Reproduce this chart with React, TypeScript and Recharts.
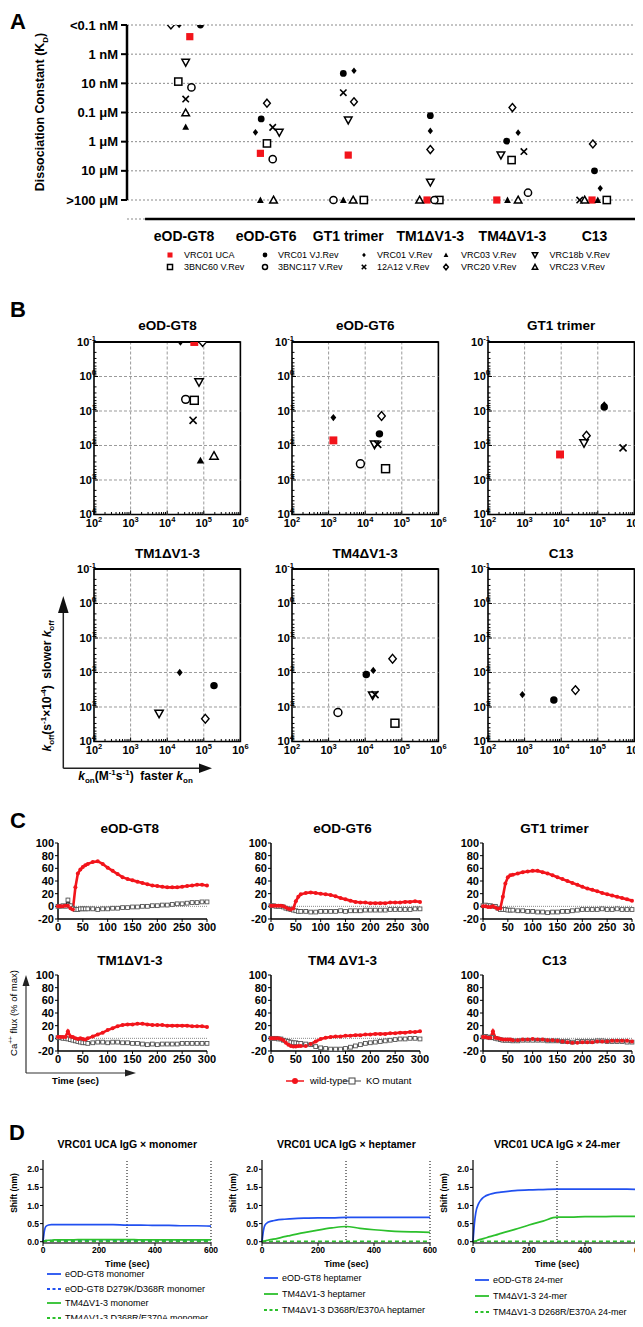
import React from "react";
import {
  ScatterChart, Scatter, LineChart, Line, XAxis, YAxis, CartesianGrid,
  ReferenceLine, ReferenceArea,
} from "recharts";

const SANS = '"Liberation Sans", Arial, Helvetica, sans-serif';
const RED = "#f2141b";
const BLUE = "#2150f0";
const GREEN = "#2cc02c";

// ---------- A: dissociation constants ----------
const kdGroups = ["eOD-GT8", "eOD-GT6", "GT1 trimer", "TM1ΔV1-3", "TM4ΔV1-3", "C13"];
const kdTicks = [10, 9, 8, 7, 6, 5, 4];
const kdTickLabels = ["<0.1 nM", "1 nM", "10 nM", "0.1 μM", "1 μM", "10 μM", ">100 μM"];

// [immunogen index + jitter, -log10 KD]
const kdUCA = [[0.07, 9.6], [0.93, 5.6], [2, 5.54], [2.96, 4], [3.81, 4], [4.97, 4]];
const kdVJRev = [[0.2, 10], [0.94, 6.78], [1.94, 8.34], [3, 6.89], [3.93, 6.02], [5, 5.0]];
const kdVRev = [[-0.06, 10], [0.87, 6.32], [2.07, 8.43], [3, 6.37], [4.07, 6.31], [5.07, 4.4]];
const kdVRC03 = [[0.02, 6.51], [0.93, 4], [1.94, 4], [3.94, 4], [5.04, 4]];
const kdVRC18b = [[0.02, 8.72], [1.16, 6.32], [2, 6.74], [3, 4.61], [3.86, 5.54]];
const kd3BNC60 = [[-0.07, 8.06], [1.01, 5.94], [2.19, 4], [3.11, 4], [3.99, 5.37], [5.15, 4]];
const kd3BNC117 = [[0.09, 7.86], [1.08, 5.4], [1.82, 4], [3.05, 4], [4.19, 4.25]];
const kd12A12 = [[0.02, 7.46], [1.08, 6.49], [1.94, 7.68], [4.14, 5.66], [4.82, 4]];
const kdVRC20 = [[-0.16, 10], [1.01, 7.32], [2.07, 7.37], [3, 5.73], [4, 7.17], [4.98, 5.92]];
const kdVRC23 = [[0.02, 6.99], [1.09, 4], [2.06, 4], [2.87, 4], [4.07, 4], [4.88, 4]];

const abNames = ["VRC01 UCA", "VRC01 VJ.Rev", "VRC01 V.Rev", "VRC03 V.Rev", "VRC18b V.Rev",
  "3BNC60 V.Rev", "3BNC117 V.Rev", "12A12 V.Rev", "VRC20 V.Rev", "VRC23 V.Rev"];
const abShapes = ["redSquare", "dot", "smallDiamond", "filledTri", "triDown", "square", "circle", "cross", "diamond", "triUp"];
const kdSeries = [kdUCA, kdVJRev, kdVRev, kdVRC03, kdVRC18b, kd3BNC60, kd3BNC117, kd12A12, kdVRC20, kdVRC23];

// ---------- B: kinetics, one entry per immunogen (null = no binding) ----------
const kinTitles = ["eOD-GT8", "eOD-GT6", "GT1 trimer", "TM1ΔV1-3", "TM4ΔV1-3", "C13"];
const konUCA = [5.5e4, 1.35e3, 9.3e3, null, null, null];
const koffUCA = [0.1, 71, 182, null, null, null];
const konVJRev = [null, 2.45e4, 1.5e5, 1.9e5, 1.07e4, 6.3e3];
const koffVJRev = [null, 46, 7.6, 240, 115, 630];
const konVRev = [2.3e4, 1.35e3, 1.5e5, 2.2e4, 1.66e4, 870];
const koffVRev = [0.1, 15.5, 6.6, 100, 87, 437];
const konVRC03 = [8.1e4, null, null, null, null, null];
const koffVRC03 = [270, null, null, null, null, null];
const konVRC18b = [7.4e4, 1.8e4, 4.2e4, 6.0e3, 1.6e4, null];
const koffVRC18b = [1.45, 93, 85, 1550, 457, null];
const kon3BNC60 = [5.5e4, 3.6e4, null, null, 6.5e4, null];
const koff3BNC60 = [4.9, 470, null, null, 2950, null];
const kon3BNC117 = [3.2e4, 7.4e3, null, null, 1.8e3, null];
const koff3BNC117 = [4.6, 340, null, null, 1445, null];
const kon12A12 = [5.1e4, 2.2e4, 4.9e5, null, 1.86e4, null];
const koff12A12 = [18.6, 93, 117, null, 437, null];
const konVRC20 = [9.3e4, 2.8e4, 4.9e4, 1.1e5, 5.6e4, 2.45e4];
const koffVRC20 = [0.1, 14, 52, 2190, 40, 324];
const konVRC23 = [1.9e5, null, null, null, null, null];
const koffVRC23 = [200, null, null, null, null, null];
const konAll = [konUCA, konVJRev, konVRev, konVRC03, konVRC18b, kon3BNC60, kon3BNC117, kon12A12, konVRC20, konVRC23];
const koffAll = [koffUCA, koffVJRev, koffVRev, koffVRC03, koffVRC18b, koff3BNC60, koff3BNC117, koff12A12, koffVRC20, koffVRC23];
const konDecades = [1e2, 1e3, 1e4, 1e5, 1e6];
const koffDecades = [1e-1, 1, 10, 100, 1e3, 1e4];

// ---------- C: Ca++ flux ----------
const fluxTitles = ["eOD-GT8", "eOD-GT6", "GT1 trimer", "TM1ΔV1-3", "TM4 ΔV1-3", "C13"];
const fluxTime = [0, 5, 10, 15, 20, 25, 30, 35, 40, 45, 50, 55, 60, 70, 80, 90, 100, 110, 120, 130, 140, 150,
  160, 170, 180, 190, 200, 210, 220, 230, 240, 250, 260, 270, 280, 290, 300];
const gt8Wt = [0, 0, 0, 1, 1, -3, -5, 30, 52, 58, 62, 65, 67, 70, 71, 67, 61, 56, 51, 46, 43, 41, 39, 37, 35, 33, 32, 31, 30, 30, 30, 31, 32, 33, 34, 34, 33];
const gt8Ko = [0, 0, 1, 0, 10, 1, -3, -5, -5, -4, -4, -4, -4, -4, -5, -4, -4, -3, -3, -2, -2, -1, -1, 0, 0, 1, 1, 2, 2, 3, 4, 4, 5, 6, 6, 7, 7];
const gt6Wt = [1, 1, 1, 1, 1, 0, -2, -4, -5, -3, 8, 15, 19, 21, 22, 21, 20, 19, 18, 16, 13, 11, 9, 7, 6, 6, 5, 5, 5, 5, 6, 6, 6, 7, 7, 8, 7];
const gt6Ko = [1, 1, 0, 0, 0, -1, -3, -4, -5, -6, -7, -8, -8, -8, -9, -9, -8, -8, -8, -8, -7, -8, -7, -7, -7, -6, -6, -6, -6, -6, -5, -5, -5, -5, -5, -4, -4];
const gt1Wt = [0, 0, -1, -1, 0, -2, -4, -3, 15, 36, 46, 49, 50, 52, 54, 55, 56, 56, 54, 52, 49, 46, 43, 40, 37, 34, 31, 28, 26, 24, 21, 19, 17, 15, 13, 11, 9];
const gt1Ko = [1, 2, 1, 1, 0, 0, -3, -5, -5, -5, -6, -6, -6, -7, -7, -8, -8, -9, -9, -10, -9, -9, -8, -8, -7, -6, -5, -5, -5, -5, -4, -5, -5, -4, -5, -5, -5];
const tm1Wt = [2, 2, 2, 2, 11, 3, 2, 0, -1, 0, -1, -2, 0, 3, 6, 9, 13, 16, 19, 21, 22, 22, 23, 23, 22, 21, 21, 21, 20, 20, 20, 20, 20, 19, 19, 19, 18];
const tm1Ko = [1, 1, 0, 0, -1, -2, -3, -4, -5, -6, -7, -7, -8, -7, -6, -6, -7, -6, -6, -7, -7, -8, -8, -9, -10, -9, -10, -9, -9, -9, -9, -8, -8, -8, -8, -8, -8];
const tm4Wt = [0, 0, 0, 0, -1, -3, -7, -10, -12, -13, -13, -12, -12, -12, -9, -5, -1, 1, 2, 3, 3, 4, 4, 5, 5, 6, 6, 7, 7, 7, 8, 8, 9, 9, 10, 10, 11];
const tm4Ko = [0, 0, 0, -1, -1, -3, -4, -5, -6, -7, -7, -8, -8, -9, -10, -13, -15, -16, -17, -17, -17, -16, -14, -12, -10, -8, -7, -6, -5, -4, -3, -2, -1, -1, 0, 0, -1];
const c13Wt = [2, 2, 1, 1, 11, 1, 0, -1, -2, -2, -2, -2, -3, -3, -2, -2, -1, -2, -2, -3, -3, -4, -5, -6, -7, -7, -6, -6, -6, -5, -5, -5, -4, -4, -4, -4, -5];
const c13Ko = [2, 3, 2, 1, 1, 0, -1, -2, -3, -3, -3, -3, -4, -4, -3, -3, -3, -3, -3, -4, -4, -4, -5, -5, -6, -5, -5, -5, -5, -4, -4, -5, -5, -5, -5, -6, -6];
const fluxWt = [gt8Wt, gt6Wt, gt1Wt, tm1Wt, tm4Wt, c13Wt];
const fluxKo = [gt8Ko, gt6Ko, gt1Ko, tm1Ko, tm4Ko, c13Ko];
const fluxXTicks = [0, 50, 100, 150, 200, 250, 300];
const fluxYTicks = [-20, 0, 20, 40, 60, 80, 100];

// ---------- D: BLI ----------
const bliTitles = ["VRC01 UCA IgG × monomer", "VRC01 UCA IgG × heptamer", "VRC01 UCA IgG × 24-mer"];
const bliTime = [0, 5, 10, 20, 30, 40, 60, 80, 100, 150, 200, 250, 300, 350, 400, 450, 500, 550, 600];
const gt8Mono = [0, 0.3, 0.42, 0.46, 0.47, 0.47, 0.47, 0.47, 0.47, 0.47, 0.47, 0.47, 0.46, 0.46, 0.45, 0.45, 0.44, 0.44, 0.43];
const gt8KoMono = [0, 0.02, 0.03, 0.03, 0.03, 0.03, 0.03, 0.03, 0.03, 0.03, 0.03, 0.03, 0.03, 0.03, 0.03, 0.03, 0.03, 0.03, 0.03];
const tm4Mono = [0, 0.02, 0.03, 0.04, 0.04, 0.05, 0.05, 0.05, 0.05, 0.06, 0.06, 0.06, 0.06, 0.05, 0.05, 0.05, 0.05, 0.05, 0.05];
const tm4KoMono = [0, 0.01, 0.01, 0.01, 0.01, 0.01, 0.01, 0.01, 0.01, 0.01, 0.01, 0.01, 0.01, 0.01, 0.01, 0.01, 0.01, 0.01, 0.01];
const gt8Hept = [0, 0.3, 0.45, 0.53, 0.56, 0.58, 0.61, 0.62, 0.63, 0.65, 0.66, 0.66, 0.67, 0.67, 0.67, 0.67, 0.67, 0.67, 0.67];
const tm4Hept = [0, 0.01, 0.02, 0.04, 0.06, 0.07, 0.1, 0.14, 0.17, 0.25, 0.32, 0.38, 0.42, 0.37, 0.33, 0.3, 0.28, 0.27, 0.26];
const tm4KoHept = [0, 0.01, 0.01, 0.01, 0.01, 0.01, 0.01, 0.01, 0.01, 0.01, 0.01, 0.01, 0.01, 0.01, 0.01, 0.01, 0.01, 0.01, 0.01];
const gt8Mer24 = [0, 0.5, 0.8, 1.05, 1.17, 1.24, 1.31, 1.35, 1.37, 1.41, 1.43, 1.44, 1.45, 1.45, 1.45, 1.45, 1.45, 1.45, 1.44];
const tm4Mer24 = [0, 0.01, 0.02, 0.05, 0.07, 0.09, 0.14, 0.18, 0.23, 0.34, 0.46, 0.57, 0.68, 0.68, 0.69, 0.69, 0.7, 0.7, 0.7];
const tm4KoMer24 = [0, 0.01, 0.01, 0.01, 0.01, 0.01, 0.01, 0.01, 0.01, 0.01, 0.01, 0.01, 0.01, 0.01, 0.01, 0.01, 0.01, 0.01, 0.01];
const bliNames = [
  ["eOD-GT8 monomer", "eOD-GT8 D279K/D368R monomer", "TM4ΔV1-3 monomer", "TM4ΔV1-3 D368R/E370A monomer"],
  ["eOD-GT8 heptamer", "TM4ΔV1-3 heptamer", "TM4ΔV1-3 D368R/E370A heptamer"],
  ["eOD-GT8 24-mer", "TM4ΔV1-3 24-mer", "TM4ΔV1-3 D268R/E370A 24-mer"],
];
const bliValues = [
  [gt8Mono, gt8KoMono, tm4Mono, tm4KoMono],
  [gt8Hept, tm4Hept, tm4KoHept],
  [gt8Mer24, tm4Mer24, tm4KoMer24],
];
const bliStyles = [
  [[BLUE, false], [BLUE, true], [GREEN, false], [GREEN, true]],
  [[BLUE, false], [GREEN, false], [GREEN, true]],
  [[BLUE, false], [GREEN, false], [GREEN, true]],
];

// ---------- helpers ----------
function Txt({ x, y, children, size = 12, bold = false, anchor = "middle", rotate = 0, style = {} }: any) {
  const tx = anchor === "middle" ? "-50%" : anchor === "end" ? "-100%" : "0";
  return (
    <div style={{
      position: "absolute", left: x, top: y, fontSize: size, fontWeight: bold ? 700 : 400,
      lineHeight: 1, whiteSpace: "nowrap", fontFamily: SANS, color: "#000",
      transform: `translate(${tx}, -50%)${rotate ? ` rotate(${rotate}deg)` : ""}`, ...style,
    }}>{children}</div>
  );
}

function Marker({ kind, cx, cy, s = 1 }: { kind: string; cx: number; cy: number; s?: number }) {
  const k = "#000";
  if (cx == null || cy == null) return null;
  switch (kind) {
    case "redSquare": { const h = 3.6 * s; return <rect x={cx - h} y={cy - h} width={2 * h} height={2 * h} fill={RED} />; }
    case "dot": return <circle cx={cx} cy={cy} r={3.4 * s} fill={k} />;
    case "smallDiamond": { const h = 3.3 * s; return <polygon points={`${cx},${cy - h} ${cx + h * 0.8},${cy} ${cx},${cy + h} ${cx - h * 0.8},${cy}`} fill={k} />; }
    case "filledTri": { const h = 3.4 * s; return <polygon points={`${cx},${cy - h} ${cx + h},${cy + h * 0.85} ${cx - h},${cy + h * 0.85}`} fill={k} />; }
    case "triDown": { const h = 3.8 * s; return <polygon points={`${cx - h},${cy - h * 0.8} ${cx + h},${cy - h * 0.8} ${cx},${cy + h}`} fill="#fff" stroke={k} strokeWidth={1.5} />; }
    case "square": { const h = 3.6 * s; return <rect x={cx - h} y={cy - h} width={2 * h} height={2 * h} fill="#fff" stroke={k} strokeWidth={1.5} />; }
    case "circle": return <circle cx={cx} cy={cy} r={3.6 * s} fill="#fff" stroke={k} strokeWidth={1.5} />;
    case "cross": { const h = 3.2 * s; return (<g stroke={k} strokeWidth={1.6}><line x1={cx - h} y1={cy - h} x2={cx + h} y2={cy + h} /><line x1={cx - h} y1={cy + h} x2={cx + h} y2={cy - h} /></g>); }
    case "diamond": { const h = 4 * s; return <polygon points={`${cx},${cy - h} ${cx + h * 0.85},${cy} ${cx},${cy + h} ${cx - h * 0.85},${cy}`} fill="#fff" stroke={k} strokeWidth={1.4} />; }
    case "triUp": { const h = 3.8 * s; return <polygon points={`${cx},${cy - h} ${cx + h},${cy + h * 0.8} ${cx - h},${cy + h * 0.8}`} fill="#fff" stroke={k} strokeWidth={1.5} />; }
  }
  return null;
}

function withMinors(decades: number[]) {
  const out: number[] = [];
  decades.forEach((d, i) => {
    out.push(d);
    if (i < decades.length - 1) for (let m = 2; m <= 9; m++) out.push(d * m);
  });
  return out;
}
const isMajor = (v: number) => { const e = Math.log10(v); return Math.abs(e - Math.round(e)) < 1e-6; };

function LogXTick({ x, y, payload }: any) {
  const v = payload.value; const major = isMajor(v);
  return (
    <g>
      <line x1={x} x2={x} y1={y} y2={y - (major ? 4 : 2.5)} stroke="#000" strokeWidth={1} />
      {major && (
        <text x={x} y={y + 13} textAnchor="middle" fontFamily={SANS} fontSize={11} fontWeight={700} fill="#000">
          10<tspan dy={-5} fontSize={7.5}>{Math.round(Math.log10(v))}</tspan>
        </text>
      )}
    </g>
  );
}
function LogYTick({ x, y, payload }: any) {
  const v = payload.value; const major = isMajor(v);
  return (
    <g>
      <line x1={x} x2={x + (major ? 4 : 2.5)} y1={y} y2={y} stroke="#000" strokeWidth={1} />
      {major && (
        <text x={x + 2} y={y + 4} textAnchor="end" fontFamily={SANS} fontSize={11} fontWeight={700} fill="#000">
          10<tspan dy={-5} fontSize={7.5}>{Math.round(Math.log10(v))}</tspan>
        </text>
      )}
    </g>
  );
}

// ---------- A ----------
function KdChart() {
  const xMin = -0.695, xMax = 5.53, yMin = 3.349;
  return (
    <div style={{ position: "absolute", left: 0, top: 15 }}>
      <ScatterChart width={643} height={244} margin={{ top: 10, right: 5, bottom: 0, left: 0 }}>
        <CartesianGrid vertical={false} stroke="#8a8a8a" strokeDasharray="2 2" />
        <XAxis type="number" dataKey="x" domain={[xMin, xMax]} ticks={[0, 1, 2, 3, 4, 5]} interval={0}
          tickFormatter={(v: number) => kdGroups[v]} axisLine={false} tickLine={false} height={40} tickMargin={6}
          tick={{ fill: "#000", fontSize: 14, fontWeight: 700, fontFamily: SANS }} allowDataOverflow />
        <YAxis type="number" dataKey="y" domain={[yMin, 10]} ticks={kdTicks} interval={0} width={127}
          tickFormatter={(v: number) => kdTickLabels[kdTicks.indexOf(v)]} axisLine={false}
          tickLine={{ stroke: "#000", strokeWidth: 2 }} tickSize={6} tickMargin={3}
          tick={{ fill: "#000", fontSize: 13, fontWeight: 700, fontFamily: SANS }} allowDataOverflow />
        <ReferenceLine segment={[{ x: xMin, y: 4 }, { x: xMin, y: 10 }]} stroke="#000" strokeWidth={2.5} ifOverflow="visible" />
        <ReferenceLine segment={[{ x: -0.475, y: yMin }, { x: xMax, y: yMin }]} stroke="#000" strokeWidth={2.5} ifOverflow="visible" />
        {kdSeries.map((d, i) => (
          <Scatter key={abNames[i]} name={abNames[i]} data={d.map(([x, y]) => ({ x, y }))} isAnimationActive={false}
            shape={(p: any) => <Marker kind={abShapes[i]} cx={p.cx} cy={p.cy} />} />
        ))}
      </ScatterChart>
    </div>
  );
}

function KdLegend() {
  const mx = [170, 264.5, 363.7, 446, 535];
  const tx = [184, 278, 377, 461, 549.6];
  const ry = [255.3, 267.3];
  return (
    <>
      {abNames.map((n, i) => {
        const c = i % 5, r = Math.floor(i / 5);
        return (
          <React.Fragment key={n}>
            <svg style={{ position: "absolute", left: mx[c] - 5, top: ry[r] - 5 }} width={10} height={10}>
              <Marker kind={abShapes[i]} cx={5} cy={5} s={0.7} />
            </svg>
            <Txt x={tx[c]} y={ry[r]} size={9} anchor="start">{n}</Txt>
          </React.Fragment>
        );
      })}
    </>
  );
}

// ---------- B ----------
const konTicks = withMinors(konDecades);
const koffTicks = withMinors(koffDecades);

function KineticsPlot({ idx, px, py }: { idx: number; px: number; py: number }) {
  const yw = 34, mt = 11, mr = 14, xh = 24, w = 146.4, h = 172.5;
  return (
    <>
      <Txt x={px + w / 2} y={py - 15.5} size={13.5} bold>{kinTitles[idx]}</Txt>
      <div style={{ position: "absolute", left: px - yw, top: py - mt }}>
        <ScatterChart width={yw + w + mr} height={mt + h + xh} margin={{ top: mt, right: mr, bottom: 0, left: 0 }}>
          <XAxis type="number" dataKey="x" scale="log" domain={[100, 1e6]} ticks={konTicks} interval={0}
            tick={(p: any) => <LogXTick {...p} />} tickSize={0} tickMargin={0} axisLine={false} tickLine={false}
            height={xh} allowDataOverflow />
          <YAxis type="number" dataKey="y" scale="log" domain={[0.1, 1e4]} reversed ticks={koffTicks} interval={0}
            tick={(p: any) => <LogYTick {...p} />} tickSize={0} tickMargin={0} axisLine={false} tickLine={false}
            width={yw} allowDataOverflow />
          {[1e3, 1e4, 1e5].map((v) => <ReferenceLine key={"x" + v} x={v} stroke="#9a9a9a" strokeDasharray="3 2" />)}
          {[1, 10, 100, 1e3].map((v) => <ReferenceLine key={"y" + v} y={v} stroke="#9a9a9a" strokeDasharray="3 2" />)}
          <ReferenceArea x1={100} x2={1e6} y1={0.1} y2={1e4} fill="none" fillOpacity={0} stroke="#000" strokeWidth={1.6} ifOverflow="visible" />
          <ReferenceLine y={0.1} stroke="#000" strokeWidth={2.2} ifOverflow="visible" />
          {konAll.map((kon, a) => {
            const x = kon[idx], y = koffAll[a][idx];
            if (x == null || y == null) return null;
            return (
              <Scatter key={abNames[a]} data={[{ x, y }]} isAnimationActive={false}
                shape={(p: any) => <Marker kind={abShapes[a]} cx={p.cx} cy={p.cy} s={1.1} />} />
            );
          })}
        </ScatterChart>
      </div>
    </>
  );
}

// ---------- C ----------
function FluxPlot({ idx, px, py }: { idx: number; px: number; py: number }) {
  const yw = 26, mt = 5, mr = 11, xh = 17, w = 149, h = 76;
  const data = fluxTime.map((t, i) => ({ t, wt: fluxWt[idx][i], ko: fluxKo[idx][i] }));
  const tickStyle = { fill: "#000", fontSize: 11, fontWeight: 700, fontFamily: SANS };
  return (
    <>
      <Txt x={px + w / 2 - 3} y={py - 14} size={13.5} bold>{fluxTitles[idx]}</Txt>
      <div style={{ position: "absolute", left: px - yw, top: py - mt }}>
        <LineChart width={yw + w + mr} height={mt + h + xh} data={data} margin={{ top: mt, right: mr, bottom: 0, left: 0 }}>
          <XAxis type="number" dataKey="t" domain={[0, 300]} ticks={fluxXTicks} interval={0} height={xh}
            tick={tickStyle} tickSize={3} tickMargin={1} axisLine={{ stroke: "#000", strokeWidth: 1.5 }} tickLine={{ stroke: "#000" }} />
          <YAxis type="number" domain={[-20, 100]} ticks={fluxYTicks} interval={0} width={yw}
            tick={tickStyle} tickSize={3} tickMargin={1} axisLine={{ stroke: "#000", strokeWidth: 1.5 }} tickLine={{ stroke: "#000" }} />
          <ReferenceLine y={0} stroke="#888" strokeDasharray="1 1" />
          <Line dataKey="ko" stroke="#333" strokeWidth={2} isAnimationActive={false}
            dot={(p: any) => <rect key={"k" + p.index} x={p.cx - 1.9} y={p.cy - 1.9} width={3.8} height={3.8} fill="#fff" stroke="#555" strokeWidth={0.9} />} />
          <Line dataKey="wt" stroke={RED} strokeWidth={2.6} isAnimationActive={false}
            dot={{ r: 2, fill: RED, stroke: "none" }} />
        </LineChart>
      </div>
    </>
  );
}

// ---------- D ----------
function BliPlot({ idx, px }: { idx: number; px: number }) {
  const yw = 24, mt = 4, mr = 10, xh = 14, w = 168, h = 83, py = 1160;
  const data = bliTime.map((t, i) => {
    const row: any = { t };
    bliValues[idx].forEach((arr, j) => { row["s" + j] = arr[i]; });
    return row;
  });
  const tickStyle = { fill: "#000", fontSize: 8.5, fontWeight: 700, fontFamily: SANS };
  return (
    <>
      <Txt x={px + w / 2} y={1143.5} size={10.5} bold>{bliTitles[idx]}</Txt>
      <Txt x={px - 29} y={1193} size={8.5} bold rotate={-90}>Shift (nm)</Txt>
      <Txt x={px + w / 2} y={1264} size={9} bold>Time (sec)</Txt>
      <div style={{ position: "absolute", left: px - yw, top: py - mt }}>
        <LineChart width={yw + w + mr} height={mt + h + xh} data={data} margin={{ top: mt, right: mr, bottom: 0, left: 0 }}>
          <XAxis type="number" dataKey="t" domain={[0, 600]} ticks={[0, 200, 400, 600]} interval={0} height={xh}
            tick={tickStyle} tickSize={3} tickMargin={1} axisLine={{ stroke: "#444", strokeWidth: 1.5 }} tickLine={{ stroke: "#000" }} />
          <YAxis type="number" domain={[-0.036, 2.257]} ticks={[0, 0.5, 1, 1.5, 2]} interval={0} width={yw}
            tickFormatter={(v: number) => v.toFixed(1)} allowDataOverflow
            tick={tickStyle} tickSize={3} tickMargin={1} axisLine={{ stroke: "#000", strokeWidth: 1.2 }} tickLine={{ stroke: "#000" }} />
          <ReferenceLine x={300} stroke="#000" strokeDasharray="1 2" />
          <ReferenceLine x={600} stroke="#000" strokeDasharray="1 2" />
          {bliValues[idx].map((_, j) => (
            <Line key={j} dataKey={"s" + j} type="monotone" stroke={bliStyles[idx][j][0] as string} strokeWidth={1.7}
              strokeDasharray={bliStyles[idx][j][1] ? "4 3" : undefined} dot={false} isAnimationActive={false} />
          ))}
        </LineChart>
      </div>
    </>
  );
}

function BliLegend({ idx, x, rows }: { idx: number; x: number; rows: number[] }) {
  return (
    <>
      {bliNames[idx].map((n, j) => (
        <React.Fragment key={n}>
          <svg style={{ position: "absolute", left: x, top: rows[j] - 3 }} width={15} height={6}>
            <line x1={0} x2={14} y1={3} y2={3} stroke={bliStyles[idx][j][0] as string} strokeWidth={1.8}
              strokeDasharray={bliStyles[idx][j][1] ? "3 2.5" : undefined} />
          </svg>
          <Txt x={x + 18} y={rows[j]} size={9} anchor="start">{n}</Txt>
        </React.Fragment>
      ))}
    </>
  );
}

export default function App() {
  const bCols = [94.3, 292, 488];
  const bRows = [341.5, 569.3];
  const cCols = [58.3, 271, 483];
  const cRows = [843.3, 975];
  const dCols = [43.3, 262.4, 473];
  return (
    <div style={{ position: "relative", width: 643, height: 1327, margin: -8, background: "#fff", overflow: "hidden", fontFamily: SANS }}>
      {/* A */}
      <Txt x={18} y={22} size={22} bold>A</Txt>
      <Txt x={42} y={112} size={12.5} bold rotate={-90}>Dissociation Constant (K<sub style={{ fontSize: 8 }}>D</sub>)</Txt>
      <KdChart />
      <KdLegend />

      {/* B */}
      <Txt x={18} y={310} size={22} bold>B</Txt>
      {kinTitles.map((_, i) => (
        <KineticsPlot key={i} idx={i} px={bCols[i % 3]} py={bRows[Math.floor(i / 3)]} />
      ))}
      <Txt x={48.3} y={685.5} size={12} bold rotate={-90}>
        <i>k</i><sub style={{ fontSize: 8 }}>off</sub>(s<sup style={{ fontSize: 8 }}>-1</sup>×10<sup style={{ fontSize: 8 }}>-4</sup>)&nbsp;&nbsp;slower <i>k</i><sub style={{ fontSize: 8 }}>off</sub>
      </Txt>
      <Txt x={135.5} y={777} size={12} bold>
        <i>k</i><sub style={{ fontSize: 8 }}>on</sub>(M<sup style={{ fontSize: 8 }}>-1</sup>s<sup style={{ fontSize: 8 }}>-1</sup>)&nbsp;&nbsp;faster <i>k</i><sub style={{ fontSize: 8 }}>on</sub>
      </Txt>

      {/* C */}
      <Txt x={18} y={821} size={22} bold>C</Txt>
      {fluxTitles.map((_, i) => (
        <FluxPlot key={i} idx={i} px={cCols[i % 3]} py={cRows[Math.floor(i / 3)]} />
      ))}
      <Txt x={13} y={1013} size={9.5} rotate={-90}>Ca<sup style={{ fontSize: 6.5 }}>++</sup> flux (% of max)</Txt>
      <Txt x={52} y={1081} size={9.5} bold anchor="start">Time (sec)</Txt>
      <svg style={{ position: "absolute", left: 286, top: 1076 }} width={20} height={10}>
        <line x1={0} x2={18} y1={5} y2={5} stroke={RED} strokeWidth={1.5} />
        <circle cx={9} cy={5} r={3} fill={RED} />
      </svg>
      <Txt x={310} y={1081} size={9.5} anchor="start">wild-type</Txt>
      <svg style={{ position: "absolute", left: 343, top: 1076 }} width={20} height={10}>
        <line x1={0} x2={18} y1={5} y2={5} stroke="#444" strokeWidth={1} />
        <rect x={6} y={2} width={6} height={6} fill="#fff" stroke="#444" strokeWidth={1} />
      </svg>
      <Txt x={366} y={1081} size={9.5} anchor="start">KO mutant</Txt>

      {/* D */}
      <Txt x={17} y={1133} size={22} bold>D</Txt>
      {bliTitles.map((_, i) => <BliPlot key={i} idx={i} px={dCols[i]} />)}
      <BliLegend idx={0} x={47} rows={[1274, 1288.5, 1303, 1317.5]} />
      <BliLegend idx={1} x={264} rows={[1278, 1293.5, 1310]} />
      <BliLegend idx={2} x={475} rows={[1280, 1295.7, 1311.7]} />

      {/* axis arrows */}
      <svg style={{ position: "absolute", left: 0, top: 0, pointerEvents: "none" }} width={643} height={1327}>
        <g stroke="#222" strokeWidth={1.5} fill="#111">
          <line x1={63.3} y1={768.3} x2={63.3} y2={610} />
          <line x1={63.3} y1={768.3} x2={200} y2={768.3} />
          <polygon points="63.3,596 58,613 68.6,613" stroke="none" />
          <polygon points="212,768.3 199,763.5 199,773" stroke="none" />
        </g>
        <g stroke="#333" strokeWidth={1.2} fill="#222">
          <line x1={26} y1={1073} x2={26} y2={985} />
          <line x1={26} y1={1073} x2={126} y2={1073} />
          <polygon points="26,975 22.5,986 29.5,986" stroke="none" />
          <polygon points="136,1073 125,1069.5 125,1076.5" stroke="none" />
        </g>
      </svg>
    </div>
  );
}
